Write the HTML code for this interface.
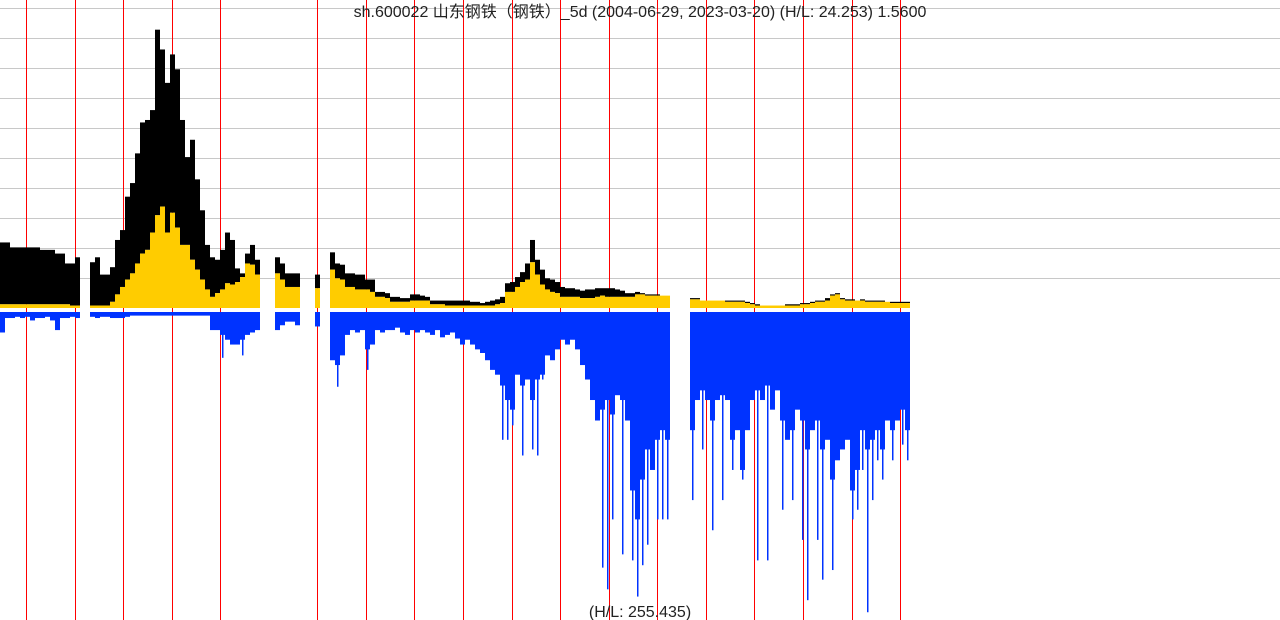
<!DOCTYPE html>
<html><head><meta charset="utf-8">
<style>
html,body{margin:0;padding:0;background:#fff;}
svg{display:block;font-family:"Liberation Sans","Noto Sans CJK SC",sans-serif;}
</style></head>
<body>
<svg id="chart" width="1280" height="620" viewBox="0 0 1280 620" xmlns="http://www.w3.org/2000/svg">
<g id="grid"></g>
<g id="years"></g>
<g id="bars"></g>
<text x="640" y="17" text-anchor="middle" font-size="16" fill="#222">sh.600022 山东钢铁（钢铁）_5d (2004-06-29, 2023-03-20) (H/L: 24.253) 1.5600</text>
<text x="640" y="617" text-anchor="middle" font-size="16" fill="#222">(H/L: 255.435)</text>
</svg>
<script>
const priceMax = 24.253;
const volMax = 255.435;
const yearIdx = [0,1,2,3,4,6,7,8,9,10,11,12,13,14,15,16,17,18];
const gridTicks = [0,1,2,3,4,5,6,7,8,9];
const highVals = [5.3,5.3,4.9,4.9,4.9,4.9,4.9,4.9,4.7,4.7,4.7,4.4,4.4,3.6,3.6,4.1,null,null,3.7,4.1,2.7,2.7,3.3,5.5,6.3,9.0,10.1,12.5,15.0,15.2,16.0,22.5,20.9,18.2,20.5,19.3,15.2,12.2,13.6,10.4,7.9,5.1,
4.1,3.9,4.7,6.1,5.5,3.2,2.8,4.4,5.1,3.9,null,null,null,4.1,3.6,2.8,2.8,2.8,null,null,null,2.7,null,null,4.5,3.6,3.5,2.8,2.8,2.7,2.7,2.3,2.3,1.3,1.3,1.2,0.9,0.9,0.8,0.8,1.1,1.1,1.0,0.9,0.6,0.6,0.6,0.6,0.6,0.6,0.6,0.6,0.5,0.5,0.4,0.5,0.6,0.7,0.9,
2.0,2.1,2.5,2.9,3.6,5.5,3.9,3.1,2.4,2.3,2.1,1.7,1.6,1.6,1.5,1.4,1.5,1.5,1.6,1.6,1.6,1.6,1.5,1.4,1.2,1.2,1.3,1.2,1.1,1.1,1.1,1.0,1.0,null,null,null,null,0.8,0.8,0.6,0.6,0.6,0.6,0.6,0.6,0.6,0.6,0.6,0.5,0.4,0.3,0.2,0.2,0.2,0.2,0.2,0.3,0.3,0.3,0.4,0.4,0.5,0.6,0.6,0.8,1.1,1.2,0.8,0.7,0.7,0.6,0.7,0.6,0.6,0.6,0.6,0.5,0.5,0.5,0.5,0.5];
const closeVals = [0.3,0.3,0.3,0.3,0.3,0.3,0.3,0.3,0.3,0.3,0.3,0.3,0.3,0.3,0.2,0.2,null,null,0.2,0.2,0.2,0.2,0.5,1.1,1.7,2.3,2.8,3.6,4.4,4.7,6.1,7.5,8.2,6.1,7.7,6.5,5.1,5.1,3.9,3.1,2.3,1.5,
0.9,1.2,1.5,2.0,1.9,2.1,2.5,3.6,3.5,2.7,null,null,null,2.8,2.3,1.7,1.7,1.7,null,null,null,1.6,null,null,3.1,2.4,2.3,1.7,1.7,1.5,1.5,1.5,1.3,0.9,0.9,0.8,0.5,0.5,0.5,0.5,0.6,0.6,0.6,0.6,0.3,0.3,0.3,0.2,0.2,0.2,0.2,0.2,0.2,0.2,0.2,0.2,0.2,0.3,0.4,
1.3,1.3,1.7,2.1,2.3,3.7,2.7,1.9,1.5,1.3,1.2,0.9,0.9,0.9,0.9,0.8,0.8,0.8,0.9,1.0,0.9,0.9,0.9,0.9,0.9,0.9,1.1,1.1,1.0,1.0,1.0,1.0,1.0,null,null,null,null,0.7,0.7,0.6,0.6,0.6,0.6,0.6,0.5,0.5,0.5,0.5,0.4,0.3,0.2,0.2,0.2,0.2,0.2,0.2,0.2,0.2,0.2,0.3,0.3,0.4,0.5,0.5,0.6,1.0,1.1,0.7,0.6,0.6,0.6,0.6,0.5,0.5,0.5,0.5,0.5,0.4,0.4,0.4,0.4];
const volVals = [17,5,5,4,5,4,7,5,5,4,7,15,5,5,4,5,null,null,4,5,4,4,5,5,5,4,3,3,3,3,3,3,3,3,3,3,3,3,3,3,3,3,
15,15,19,23,27,27,23,19,17,15,null,null,null,15,11,8,8,11,null,null,null,12,null,null,40,44,36,19,15,17,15,31,27,15,17,15,15,13,17,19,15,17,15,17,19,15,21,19,17,22,27,23,27,31,34,40,48,52,61,
73,81,52,61,56,73,56,52,36,40,31,23,27,23,31,44,56,73,90,81,73,85,69,73,90,148,172,139,114,131,106,98,106,null,null,null,null,98,73,65,73,90,73,69,73,106,98,131,98,73,65,73,61,81,65,90,106,98,81,90,114,98,90,114,106,139,123,114,106,148,131,98,114,106,98,114,90,98,90,81,98];
const spikeCols = [44,48,67,73,100,101,102,104,106,107,108,120,121,122,124,126,127,128,129,131,132,133,138,140,142,144,146,148,151,153,156,158,160,161,163,164,166,170,171,172,173,174,175,176,178,180,181];
const spikeVals = [38,36,62,48,106,106,94,119,114,119,56,212,230,172,201,206,236,210,193,172,172,172,156,114,181,156,131,139,206,206,164,156,189,239,189,222,214,172,164,131,249,156,123,139,123,110,123];
const colW = 5;
const baseY = 308, volTop = 312;
function xPos(i){ return i*colW; }
function yPrice(v){ return baseY - v/priceMax*300; }
function yVol(v){ return volTop + v/volMax*308; }
function yearX(k){ return 26 + k*48.56; }
const NS='http://www.w3.org/2000/svg';
function mk(tag, attrs, parent){ const e=document.createElementNS(NS,tag); for(const k in attrs) e.setAttribute(k,attrs[k]); parent.appendChild(e); return e; }
const grid=document.getElementById('grid');
gridTicks.forEach(t=>{
  const l=mk('line',{x1:0,x2:1280,y1:8.5+t*30,y2:8.5+t*30,stroke:'#c8c8c8','stroke-width':1},grid);
  
  
});
const years=document.getElementById('years');
yearIdx.forEach(k=>{
  const x=Math.round(yearX(k))+0.5;
  const l=mk('line',{x1:x,x2:x,y1:0,y2:620,stroke:'#ff0000','stroke-width':1},years);
  
  
});
const bars=document.getElementById('bars');
for(let i=0;i<highVals.length;i++){
  if(highVals[i]==null) continue;
  const x=xPos(i);
  const yh=yPrice(highVals[i]), yc=yPrice(closeVals[i]);
  const b=mk('rect',{x:x,y:yh,width:colW,height:Math.max(0,yc-yh),fill:'#000'},bars);
  
  
  const c=mk('rect',{x:x,y:yc,width:colW,height:baseY-yc,fill:'#ffcc00'},bars);
  
  
  const v=mk('rect',{x:x,y:volTop,width:colW,height:yVol(volVals[i])-volTop,fill:'#0033ff'},bars);
  
  
}
spikeCols.forEach((ci,j)=>{
  const x=xPos(ci)+2;
  const s=mk('rect',{x:x,y:volTop,width:1.5,height:yVol(spikeVals[j])-volTop,fill:'#0033ff'},bars);
  
  
});
</script>
</body></html>
